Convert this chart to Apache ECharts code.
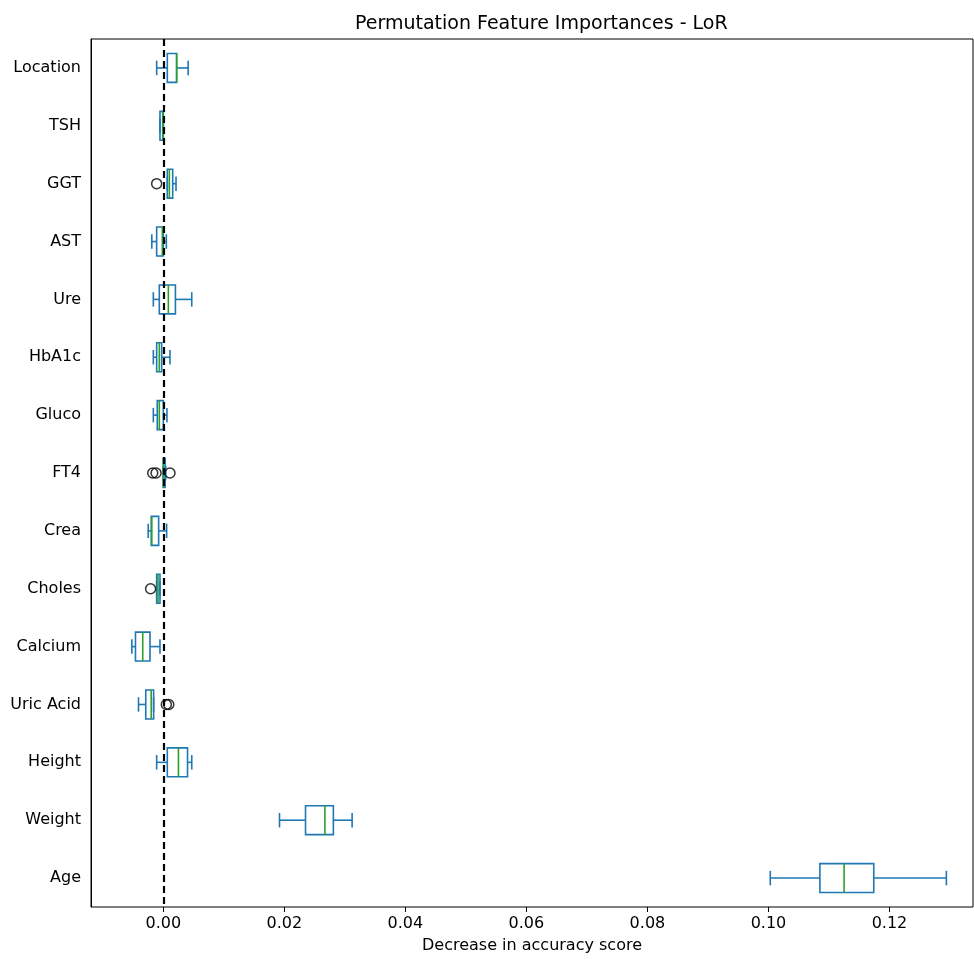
<!DOCTYPE html>
<html lang="en">
<head>
<meta charset="UTF-8">
<title>Permutation Feature Importances - LoR</title>
<script src="https://cdn.jsdelivr.net/npm/echarts@6/dist/echarts.min.js"></script>
<style>
  * { margin: 0; }
  html, body { height: 100%; background: #fff; }
  #chart { width: 974px; height: 959px; }
</style>
</head>
<body>
<div id="chart"></div>
<script>
  // features, top to bottom
  const features = ['Location', 'TSH', 'GGT', 'AST', 'Ure', 'HbA1c', 'Gluco', 'FT4',
                    'Crea', 'Choles', 'Calcium', 'Uric Acid', 'Height', 'Weight', 'Age'];
  // box stats per feature: [min whisker, q1, median, q3, max whisker]
  const boxStats = [
    [-0.0011, 0.00066, 0.0022, 0.0022, 0.0041],
    [-0.00055, -0.00055, -0.0001, 0.0, 0.0],
    [0.00066, 0.00066, 0.001, 0.00155, 0.0021],
    [-0.0019, -0.0011, -0.00016, 0.0, 0.0005],
    [-0.00165, -0.00066, 0.00083, 0.002, 0.0047],
    [-0.00165, -0.0011, -0.00066, -0.00027, 0.0011],
    [-0.00165, -0.001, -0.00066, 0.0, 0.0006],
    [0.0, 0.0, 0.0, 0.0003, 0.0004],
    [-0.0025, -0.002, -0.0019, -0.00077, 0.00055],
    [-0.0011, -0.0011, -0.00088, -0.00055, -0.00055],
    [-0.0052, -0.0046, -0.0034, -0.0022, -0.00055],
    [-0.0041, -0.0029, -0.002, -0.0016, -0.0016],
    [-0.0011, 0.00066, 0.0025, 0.004, 0.0047],
    [0.0192, 0.0235, 0.0267, 0.0281, 0.0312],
    [0.1003, 0.1085, 0.1125, 0.1174, 0.1294]
  ];
  // outliers: [feature, value]
  const outliers = [
    ['GGT', -0.0011],
    ['FT4', -0.00175], ['FT4', -0.0012], ['FT4', 0.0011],
    ['Choles', -0.0021],
    ['Uric Acid', 0.0005], ['Uric Acid', 0.0009]
  ];
  const xTicks = [0, 0.02, 0.04, 0.06, 0.08, 0.10, 0.12];

  const BLUE = '#1f77b4', GREEN = '#2ca02c';
  const boxData = boxStats.map((s, i) => [i].concat(s));

  function renderBox(params, api) {
    const idx = api.value(0);
    const band = api.size([0, 1])[1];
    const half = band * 0.25, cap = band * 0.125;
    const p = [1, 2, 3, 4, 5].map(k => api.coord([api.value(k), idx]));
    const y = p[0][1];
    const ls = { stroke: BLUE, lineWidth: 1.6, fill: null };
    return {
      type: 'group',
      children: [
        { type: 'line', shape: { x1: p[0][0], y1: y, x2: p[1][0], y2: y }, style: ls },
        { type: 'line', shape: { x1: p[3][0], y1: y, x2: p[4][0], y2: y }, style: ls },
        { type: 'line', shape: { x1: p[0][0], y1: y - cap, x2: p[0][0], y2: y + cap }, style: ls },
        { type: 'line', shape: { x1: p[4][0], y1: y - cap, x2: p[4][0], y2: y + cap }, style: ls },
        { type: 'rect', shape: { x: p[1][0], y: y - half, width: p[3][0] - p[1][0], height: half * 2 }, style: ls },
        { type: 'line', shape: { x1: p[2][0], y1: y - half, x2: p[2][0], y2: y + half },
          style: { stroke: GREEN, lineWidth: 1.6 } }
      ]
    };
  }

  const chart = echarts.init(document.getElementById('chart'));
  chart.setOption({
    animation: false,
    textStyle: { fontFamily: 'DejaVu Sans' },
    title: {
      text: 'Permutation Feature Importances - LoR',
      left: 350, top: 10,
      textStyle: { fontSize: 19, fontWeight: 'normal', color: '#000', fontFamily: 'DejaVu Sans' }
    },
    grid: { left: 91, right: 1, top: 39, bottom: 49, show: true, borderColor: '#000', borderWidth: 1 },
    xAxis: {
      type: 'value',
      min: -0.01195, max: 0.1338,
      name: 'Decrease in accuracy score',
      nameLocation: 'middle', nameGap: 31,
      nameTextStyle: { fontSize: 16, color: '#000' },
      axisLine: { lineStyle: { color: '#000' } },
      axisTick: { show: true, length: 5, lineStyle: { color: '#000' }, customValues: xTicks },
      axisLabel: { fontSize: 16, color: '#000', margin: 9, customValues: xTicks,
                   formatter: v => v.toFixed(2) },
      splitLine: { show: false }
    },
    yAxis: {
      type: 'category',
      data: features,
      inverse: true,
      axisLine: { onZero: false, lineStyle: { color: '#000' } },
      axisTick: { alignWithLabel: true, length: 5, lineStyle: { color: '#000' } },
      axisLabel: { fontSize: 16, color: '#000', margin: 10 },
      splitLine: { show: false }
    },
    series: [
      {
        type: 'custom',
        renderItem: renderBox,
        data: boxData,
        encode: { x: [1, 2, 3, 4, 5], y: 0 },
        z: 3
      },
      {
        type: 'scatter',
        data: outliers.map(o => [o[1], o[0]]),
        symbol: 'circle',
        symbolSize: 10,
        itemStyle: { color: 'rgba(0,0,0,0)', borderColor: '#000', borderWidth: 1.5 },
        z: 4,
        markLine: {
          silent: true,
          symbol: 'none',
          label: { show: false },
          lineStyle: { color: '#000', width: 2.2, type: [7, 4] },
          data: [{ xAxis: 0 }]
        }
      }
    ]
  });
</script>
</body>
</html>
